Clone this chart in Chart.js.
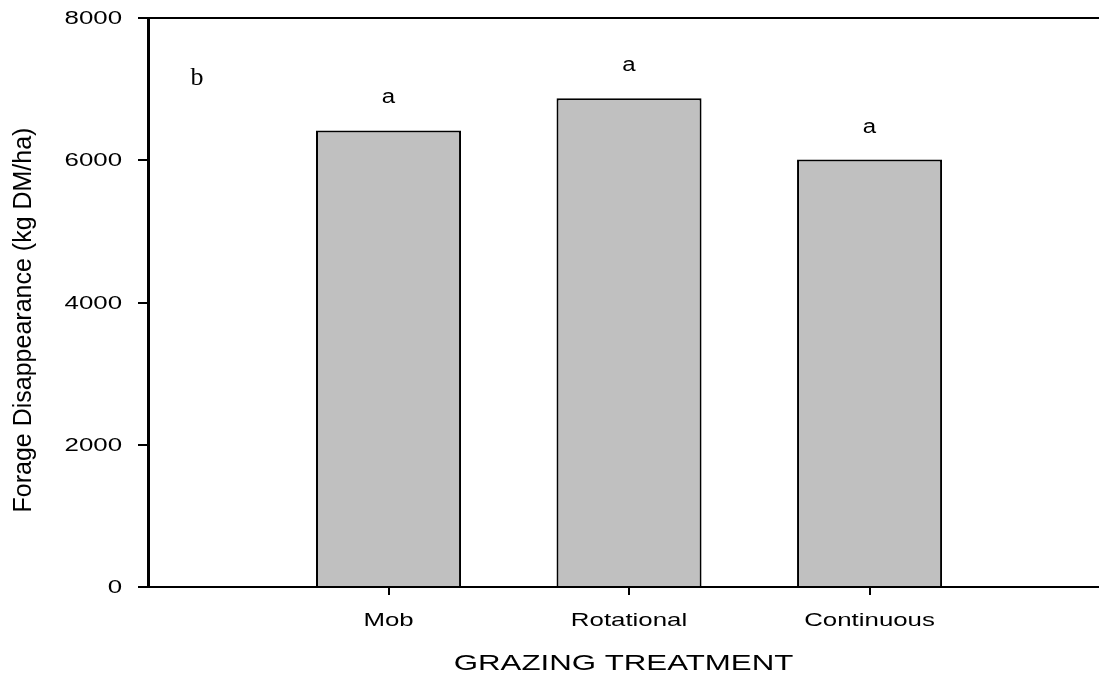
<!DOCTYPE html>
<html>
<head>
<meta charset="utf-8">
<script src="https://cdn.jsdelivr.net/npm/chart.js@4"></script>
<style>
  html, body { margin: 0; padding: 0; background: #fff; }
  canvas { display: block; }
</style>
</head>
<body>
<canvas id="forageChart" width="1099" height="680"></canvas>
<script>
// data
const treatments = ["Mob", "Rotational", "Continuous"];
const treatmentPos = [1, 2, 3];
const disappearance = [6420, 6870, 6010];
const letters = ["a", "a", "a"];
const yTicks = [0, 2000, 4000, 6000, 8000];

// the source figure has horizontally widened lettering
const STRETCH = 1.36;
const sans = "'Liberation Sans', Arial, sans-serif";

function stretchedText(ctx, text, x, y, sx, align) {
  ctx.save();
  ctx.translate(x, y);
  ctx.scale(sx, 1);
  ctx.textAlign = align;
  ctx.fillText(text, 0, 0);
  ctx.restore();
}

const labelPlugin = {
  id: "labels",
  afterDraw(chart) {
    const ctx = chart.ctx;
    const xs = chart.scales.x;
    const ys = chart.scales.y;
    const area = chart.chartArea;

    ctx.save();
    ctx.fillStyle = "#000";

    // top frame line
    ctx.strokeStyle = "#000";
    ctx.lineWidth = 2;
    ctx.beginPath();
    ctx.moveTo(area.left - 10, area.top);
    ctx.lineTo(area.right, area.top);
    ctx.stroke();

    // y tick labels
    ctx.font = "19px " + sans;
    ctx.textBaseline = "middle";
    yTicks.forEach(v => {
      stretchedText(ctx, String(v), area.left - 26, ys.getPixelForValue(v) + 1, STRETCH, "right");
    });

    // x tick labels
    ctx.textBaseline = "alphabetic";
    treatments.forEach((t, i) => {
      stretchedText(ctx, t, xs.getPixelForValue(treatmentPos[i]), area.bottom + 39, STRETCH, "center");
    });

    // x title
    ctx.font = "22px " + sans;
    stretchedText(ctx, "GRAZING TREATMENT", (area.left + area.right) / 2, area.bottom + 83, 1.42, "center");

    // y title (not widened)
    ctx.font = "25px " + sans;
    ctx.save();
    ctx.translate(31, 320);
    ctx.rotate(-Math.PI / 2);
    ctx.textAlign = "center";
    ctx.fillText("Forage Disappearance (kg DM/ha)", 0, 0);
    ctx.restore();

    // significance letters
    ctx.font = "20px " + sans;
    letters.forEach((l, i) => {
      const px = xs.getPixelForValue(treatmentPos[i]);
      const py = ys.getPixelForValue(disappearance[i]) - 27;
      stretchedText(ctx, l, px, py, 1.2, "center");
    });

    // panel letter
    ctx.font = "26px 'Liberation Serif', 'Times New Roman', serif";
    ctx.textAlign = "center";
    ctx.fillText("b", area.left + 49, area.top + 67);

    ctx.restore();
  }
};

new Chart(document.getElementById("forageChart"), {
  type: "bar",
  data: {
    datasets: [{
      label: "Forage Disappearance",
      data: treatmentPos.map((x, i) => ({ x: x, y: disappearance[i] })),
      backgroundColor: "#c0c0c0",
      borderColor: "#000",
      borderWidth: 2,
      barPercentage: 0.603,
      categoryPercentage: 1
    }]
  },
  options: {
    responsive: false,
    animation: false,
    layout: { padding: { top: 18, right: 0, left: 0, bottom: 0 } },
    plugins: {
      legend: { display: false },
      tooltip: { enabled: false }
    },
    scales: {
      x: {
        type: "linear",
        min: 0,
        max: 3.954,
        offset: false,
        afterBuildTicks: s => { s.ticks = treatmentPos.map(v => ({ value: v })); },
        afterFit: s => { s.height = 93; },
        ticks: { display: false },
        grid: { offset: false, drawOnChartArea: false, drawTicks: true, tickLength: 8, color: "#000", lineWidth: 2 },
        border: { display: true, color: "#000", width: 2 }
      },
      y: {
        min: 0,
        max: 8000,
        afterBuildTicks: s => { s.ticks = yTicks.map(v => ({ value: v })); },
        afterFit: s => { s.width = 148; },
        ticks: { display: false },
        grid: { drawOnChartArea: false, drawTicks: true, tickLength: 10, color: "#000", lineWidth: 2 },
        border: { display: true, color: "#000", width: 3 }
      }
    }
  },
  plugins: [labelPlugin]
});
</script>
</body>
</html>
